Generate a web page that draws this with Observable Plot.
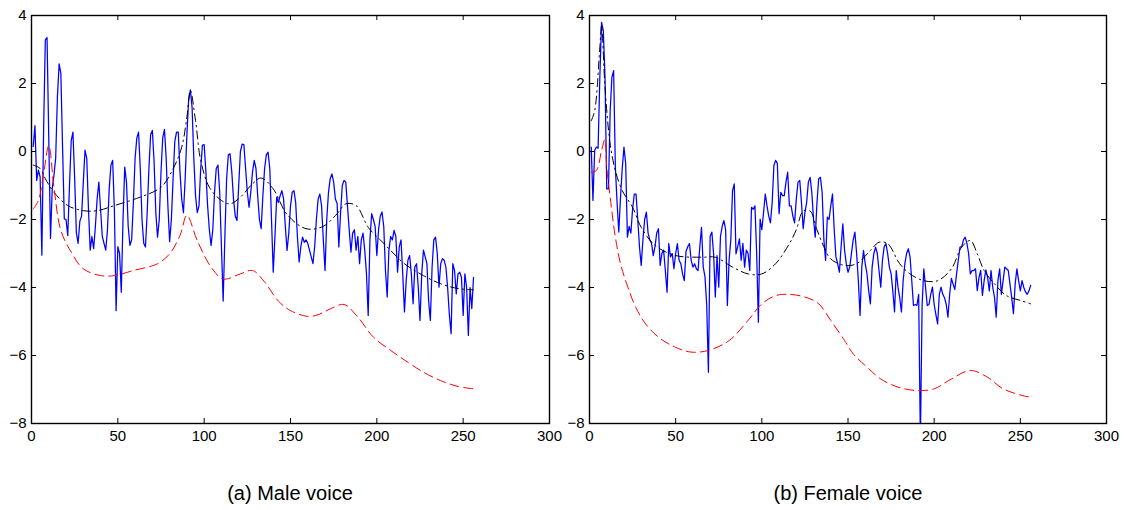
<!DOCTYPE html>
<html><head><meta charset="utf-8">
<script src="https://cdn.jsdelivr.net/npm/d3@7"></script>
<script src="https://cdn.jsdelivr.net/npm/@observablehq/plot@0.6"></script>
<style>
body{margin:0;background:#fff;font-family:"Liberation Sans",Arial,sans-serif;}
#wrap{position:relative;width:1125px;height:510px;background:#fff;}
.panel{position:absolute;top:0;}
.cap{position:absolute;top:482px;font-size:20px;text-align:center;width:400px;color:#000;}
</style></head>
<body><div id="wrap">
<div id="p1" class="panel" style="left:0;width:565px"></div>
<div id="p2" class="panel" style="left:565px;width:560px"></div>
<div class="cap" style="left:90px">(a) Male voice</div>
<div class="cap" style="left:648px">(b) Female voice</div>
</div>
<script>
const xTicks = [0, 50, 100, 150, 200, 250, 300];
const yTicks = [-8, -6, -4, -2, 0, 2, 4];
const captions = ["(a) Male voice", "(b) Female voice"];

// Male voice: spectrum (samples 1..256)
const maleSpectrum = [
 0.15,0.76,-0.85,-0.55,-0.75,-3.05,0.6,3.28,3.35,0.4,
 -2.56,-1.1,-0.7,-0.2,1.6,2.58,2.3,0.1,-1.98,-2.0,
 -2.47,-1.0,0.32,0.57,-0.8,-2.4,-2.7,-2.05,-1.9,-0.9,
 0.04,-0.2,-1.7,-2.9,-2.5,-2.86,-2.2,-1.4,-0.9,-1.7,
 -2.5,-2.7,-2.9,-2.3,-1.1,-0.4,-0.26,-1.7,-4.68,-2.8,
 -3.0,-4.14,-2.0,-0.46,-0.9,-2.2,-2.76,-2.6,-1.5,-0.2,
 0.4,0.57,-0.5,-2.0,-2.7,-2.81,-1.8,-0.5,0.5,0.62,
 -0.3,-1.8,-2.52,-2.0,-0.6,0.4,0.65,-0.2,-1.6,-2.65,
 -2.0,-0.8,0.3,0.57,0.57,-0.6,-1.4,-1.8,-0.8,0.5,
 1.5,1.81,1.3,-0.2,-1.3,-1.8,-1.6,-0.5,0.19,0.2,
 -0.6,-1.6,-2.3,-2.76,-2.3,-1.2,-0.5,-0.4,-1.2,-2.8,
 -4.4,-2.5,-0.8,-0.1,-0.07,-0.6,-1.4,-1.9,-2.03,-1.0,
 0.0,0.22,0.2,-0.5,-1.2,-1.64,-1.2,-0.6,-0.26,-0.5,
 -1.3,-2.0,-2.27,-1.3,-0.5,-0.1,-0.02,-0.5,-2.0,-3.55,
 -2.5,-1.34,-1.5,-1.3,-1.15,-1.4,-2.2,-2.91,-2.4,-1.6,
 -1.2,-1.15,-1.5,-2.5,-3.25,-2.8,-2.52,-2.67,-2.6,-2.7,
 -2.9,-3.1,-3.3,-2.8,-2.0,-1.4,-1.25,-1.6,-2.6,-3.5,
 -2.0,-1.2,-0.8,-0.66,-0.9,-1.4,-1.53,-2.81,-1.8,-1.0,
 -0.85,-0.9,-1.6,-2.3,-2.96,-2.4,-2.3,-2.9,-2.5,-3.3,
 -2.6,-2.4,-2.9,-3.6,-4.82,-2.6,-1.83,-2.0,-2.2,-3.06,
 -2.3,-1.9,-1.78,-2.2,-3.5,-4.28,-2.9,-2.5,-2.6,-2.32,
 -2.5,-3.55,-2.8,-2.6,-3.6,-4.72,-3.8,-3.2,-3.06,-3.6,
 -4.48,-3.4,-3.3,-4.0,-4.97,-3.6,-2.9,-3.1,-3.3,-4.4,
 -4.97,-3.4,-2.6,-2.52,-3.0,-3.99,-3.3,-3.15,-3.2,-3.4,
 -4.0,-4.8,-5.36,-3.3,-3.5,-4.19,-3.6,-3.55,-3.7,-4.82,
 -3.6,-4.0,-5.41,-4.0,-4.62,-3.7
];
// Male voice: dash-dot envelope
const maleEnvX = [1,5,8,13,21,30,38,48,63,75,82,87,90,92,95,98,103,110,115,121,128,133,140,148,159,169,177,182,188,195,202,208,216,227,237,247,256];
const maleEnvY = [-0.4,-0.5,-0.8,-1.2,-1.59,-1.74,-1.74,-1.59,-1.34,-1.05,-0.51,0.13,1.01,1.8,0.91,-0.26,-1.05,-1.44,-1.54,-1.34,-0.95,-0.78,-1.1,-1.85,-2.27,-2.2,-1.83,-1.54,-1.59,-2.23,-2.6,-2.91,-3.3,-3.65,-3.89,-4.03,-4.07];
// Male voice: dashed model curve
const maleModelX = [1,4,7,10,13,17,23,30,40,48,59,73,80,86,90,96,104,111,121,128,135,143,150,160,166,173,181,189,198,208,218,227,237,247,256];
const maleModelY = [-1.69,-1.44,-0.66,0.18,-1.05,-2.32,-2.96,-3.45,-3.65,-3.65,-3.5,-3.3,-3.01,-2.47,-1.88,-2.62,-3.4,-3.75,-3.6,-3.5,-3.84,-4.4,-4.68,-4.85,-4.8,-4.63,-4.5,-4.87,-5.46,-5.85,-6.2,-6.49,-6.74,-6.91,-6.98];

// Female voice: spectrum (samples 1..256)
const femaleSpectrum = [
 0.13,-1.44,0.03,0.13,0.1,2.19,3.8,3.56,2.19,-1.1,
 -1.1,1.2,2.19,2.38,-0.46,-1.5,-2.37,-1.34,-0.5,0.13,
 -0.36,-2.52,-2.2,-2.4,-1.7,-1.25,-1.25,-2.0,-2.8,-3.35,
 -2.6,-2.0,-1.78,-2.4,-2.6,-2.7,-3.06,-2.8,-2.4,-2.27,
 -3.35,-3.0,-2.9,-3.5,-4.14,-2.71,-3.1,-3.0,-3.45,-3.0,
 -2.71,-3.2,-3.3,-3.6,-3.8,-2.94,-2.8,-2.71,-3.2,-3.4,
 -3.3,-3.45,-3.5,-2.8,-2.23,-3.4,-3.68,-4.5,-6.49,-2.5,
 -2.37,-3.0,-4.28,-3.06,-3.99,-2.5,-2.2,-2.03,-2.3,-4.53,
 -3.2,-2.6,-1.15,-0.95,-3.01,-2.8,-2.57,-3.2,-2.7,-3.4,
 -2.9,-3.0,-3.5,-1.64,-1.7,-1.6,-3.0,-5.02,-1.99,-2.3,
 -1.8,-1.25,-1.6,-1.9,-2.1,-1.5,-0.41,-0.26,-0.35,-1.83,
 -1.2,-1.3,-1.3,-0.9,-0.61,-1.6,-1.6,-1.9,-2.1,-1.4,
 -0.9,-0.85,-1.5,-2.27,-1.8,-1.5,-0.9,-0.76,-1.2,-2.0,
 -2.52,-1.5,-0.8,-0.76,-1.2,-2.6,-3.2,-1.93,-2.0,-1.6,
 -1.25,-2.3,-3.1,-3.3,-3.55,-2.8,-2.13,-2.9,-3.3,-3.55,
 -3.4,-3.0,-2.6,-2.37,-3.0,-3.8,-4.82,-3.4,-2.91,-3.3,
 -3.59,-4.1,-4.48,-3.4,-3.0,-2.81,-3.0,-3.5,-3.99,-3.2,
 -2.8,-2.71,-3.0,-3.4,-3.59,-4.1,-4.72,-3.5,-3.99,-4.3,
 -4.72,-3.8,-3.3,-3.0,-2.86,-3.1,-3.8,-4.53,-4.5,-4.53,
 -4.2,-8.5,-4.53,-3.45,-4.0,-4.53,-4.5,-4.2,-3.99,-4.5,
 -4.8,-5.07,-4.2,-3.99,-4.2,-4.3,-4.5,-4.87,-4.2,-3.73,
 -3.9,-4.06,-3.6,-3.2,-2.81,-2.8,-2.6,-2.52,-2.7,-3.0,
 -3.6,-3.5,-3.5,-3.45,-4.09,-3.7,-3.5,-4.23,-3.8,-3.48,
 -3.7,-4.1,-3.5,-4.0,-4.28,-4.87,-3.8,-3.45,-4.2,-3.8,
 -3.4,-3.45,-3.5,-3.9,-4.3,-4.77,-3.9,-3.45,-3.8,-4.1,
 -3.8,-4.0,-4.13,-4.2,-4.1,-3.94
];
const femaleEnvX = [1,3,6,7,9,12,15,19,25,30,38,50,65,73,83,92,100,108,116,120,124,128,132,136,140,148,155,163,168,173,180,186,194,202,210,216,221,225,229,235,242,250,256];
const femaleEnvY = [0.9,1.2,3.07,3.7,1.89,0.22,-0.56,-1.15,-1.64,-2.23,-2.76,-3.06,-3.11,-3.11,-3.4,-3.6,-3.6,-3.3,-2.71,-2.3,-1.75,-1.75,-2.3,-2.8,-3.16,-3.35,-3.3,-2.91,-2.67,-2.71,-3.3,-3.6,-3.8,-3.8,-3.45,-2.81,-2.62,-3.01,-3.5,-3.89,-4.24,-4.38,-4.48];
const femaleModelX = [1,4,7,9,10,12,15,18,22,27,33,41,50,59,69,81,92,100,108,115,125,133,140,148,153,161,169,179,190,200,210,221,231,240,253,256];
const femaleModelY = [-0.61,-0.56,0.03,0.37,-0.46,-1.34,-2.52,-3.3,-3.95,-4.6,-5.1,-5.5,-5.76,-5.9,-5.85,-5.56,-4.97,-4.48,-4.24,-4.2,-4.28,-4.48,-4.97,-5.56,-5.95,-6.34,-6.69,-6.93,-7.03,-6.98,-6.69,-6.44,-6.64,-6.98,-7.2,-7.22];

function pairs(xs, ys) { return xs.map((x, i) => ({x, y: ys[i]})); }

function panel({width, ml, mr, spectrum, envX, envY, modelX, modelY}) {
  const H = 450, mt = 15, mb = 27;
  const fw = width - ml - mr, fh = H - mt - mb;
  const spec = spectrum.map((y, i) => ({x: i + 1, y}));
  return Plot.plot({
    width, height: H, marginLeft: ml, marginRight: mr, marginTop: mt, marginBottom: mb,
    style: {fontFamily: "Liberation Sans, Arial, sans-serif", fontSize: "15px", color: "#000", background: "#fff", overflow: "visible"},
    x: {domain: [0, 300], label: null},
    y: {domain: [-8, 4], label: null},
    marks: [
      Plot.line(spec, {x: "x", y: "y", stroke: "#0000ff", strokeWidth: 1.25, clip: true}),
      Plot.line(pairs(envX, envY), {x: "x", y: "y", stroke: "#000", strokeWidth: 1, strokeDasharray: "8 4 1.5 4", curve: "catmull-rom", clip: true}),
      Plot.line(pairs(modelX, modelY), {x: "x", y: "y", stroke: "#ff0000", strokeWidth: 1, strokeDasharray: "9 5", curve: "catmull-rom", clip: true}),
      Plot.tickX(xTicks, {x: d => d, insetTop: fh - 5, stroke: "#000"}),
      Plot.tickX(xTicks, {x: d => d, insetBottom: fh - 5, stroke: "#000"}),
      Plot.tickY(yTicks, {y: d => d, insetRight: fw - 5, stroke: "#000"}),
      Plot.tickY(yTicks, {y: d => d, insetLeft: fw - 5, stroke: "#000"}),
      Plot.axisX(xTicks, {tickSize: 0, tickPadding: 7, fill: "#000"}),
      Plot.axisY(yTicks, {tickSize: 0, tickPadding: 5, fill: "#000"}),
      Plot.frame({stroke: "#000", strokeWidth: 1.4})
    ]
  });
}

document.getElementById("p1").appendChild(panel({width: 565, ml: 31, mr: 16, spectrum: maleSpectrum, envX: maleEnvX, envY: maleEnvY, modelX: maleModelX, modelY: maleModelY}));
document.getElementById("p2").appendChild(panel({width: 560, ml: 24, mr: 19, spectrum: femaleSpectrum, envX: femaleEnvX, envY: femaleEnvY, modelX: femaleModelX, modelY: femaleModelY}));
</script>
</body></html>
